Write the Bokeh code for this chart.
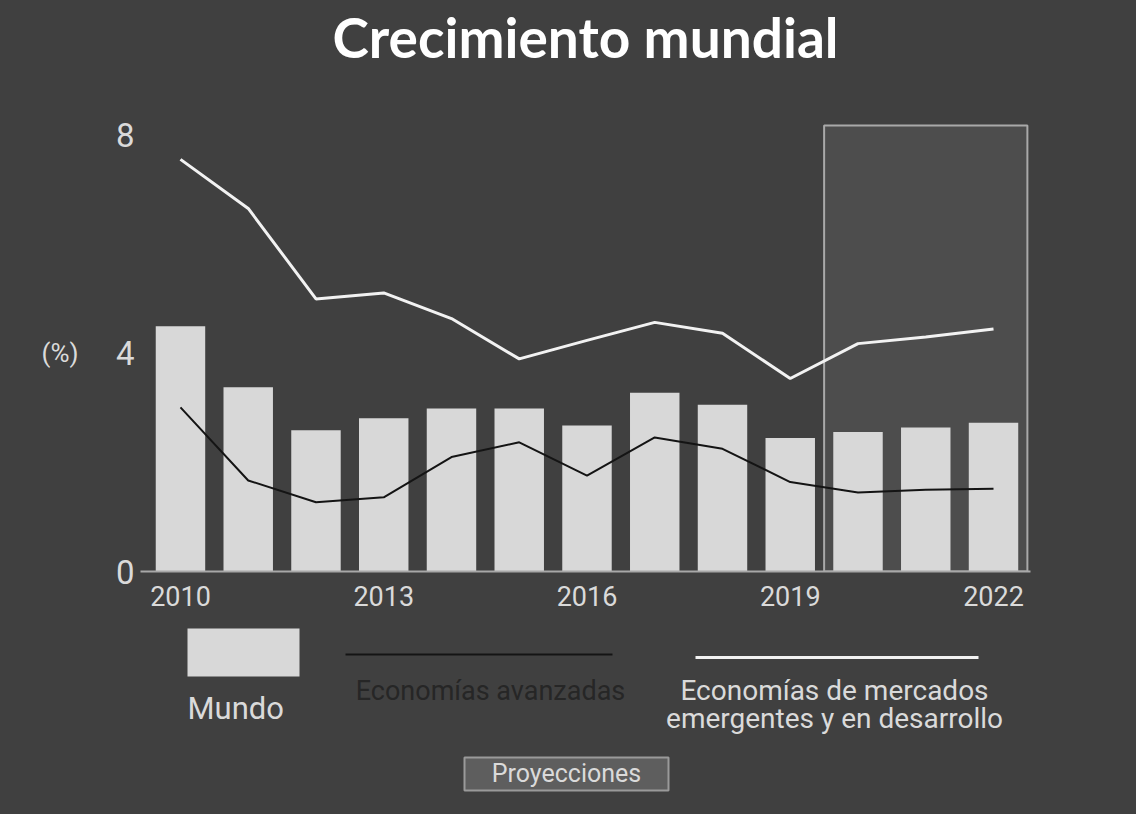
from bokeh.plotting import figure
from bokeh.models import Range1d, FixedTicker, LinearAxis, ColumnDataSource
from bokeh.layouts import column
from bokeh.embed import file_html
from bokeh.resources import INLINE
from bokeh.core.properties import value

# ---------------- data ----------------
years = [2010, 2011, 2012, 2013, 2014, 2015, 2016, 2017, 2018, 2019, 2020, 2021, 2022]
world = [4.50, 3.38, 2.59, 2.81, 2.99, 2.99, 2.68, 3.28, 3.06, 2.45, 2.56, 2.64, 2.73]
advanced = [3.01, 1.67, 1.27, 1.36, 2.10, 2.37, 1.76, 2.46, 2.25, 1.64, 1.45, 1.50, 1.52]
emerging = [7.56, 6.66, 5.00, 5.11, 4.64, 3.90, 4.24, 4.57, 4.37, 3.54, 4.18, 4.30, 4.45]
proj_years = [2020, 2021, 2022]
proj_top = 8.18
x_ticks = [2010, 2013, 2016, 2019, 2022]
y_ticks = [0, 4, 8]
unit_tick = 4

title_text = "Crecimiento mundial"
unit_text = "(%)"
lbl_world = "Mundo"
lbl_adv = "Economías avanzadas"
lbl_emde_1 = "Economías de mercados"
lbl_emde_2 = "emergentes y en desarrollo"
lbl_proj = "Proyecciones"

# ---------------- style ----------------
BG = "#404040"
BAR = "#d8d8d8"
WHITE_LINE = "#f2f2f2"
DARK_LINE = "#141414"
TXT = "#dadada"
FONT = "Roboto"
TFONT = "Lato"

W = 1136
ML, MR = 140, 106


def transparent(f):
    f.background_fill_color = None
    f.border_fill_color = None
    f.outline_line_color = None


src = ColumnDataSource(dict(year=years, world=world, adv=advanced, emde=emerging))

p = figure(width=W, height=620, output_backend="svg", toolbar_location=None,
           x_range=Range1d(2009.41, 2022.546), y_range=Range1d(0, 9.19),
           min_border_left=ML, min_border_right=MR, min_border_top=70, min_border_bottom=49)
transparent(p)

p.title.text = title_text
p.title.align = "center"
p.title.text_font = TFONT
p.title.text_font_size = "55px"
p.title.text_font_style = "bold"
p.title.text_color = "#ffffff"
p.title.standoff = 2

p.grid.visible = False

# projection shaded area
p.quad(left=[min(proj_years) - 0.5], right=[max(proj_years) + 0.5], bottom=[0], top=[proj_top],
       fill_color="#ffffff", fill_alpha=0.07, line_color="#a9a9a9", line_width=2)

p.vbar(x="year", top="world", width=0.73, source=src, fill_color=BAR, line_color=None)
p.line(x="year", y="emde", source=src, line_color=WHITE_LINE, line_width=3)
p.line(x="year", y="adv", source=src, line_color=DARK_LINE, line_width=2)

xa = p.xaxis[0]
xa.ticker = FixedTicker(ticks=x_ticks)
xa.major_tick_out = 0
xa.major_tick_in = 0
xa.minor_tick_line_color = None
xa.axis_line_color = "#a8a8a8"
xa.axis_line_width = 2
xa.major_label_text_font = FONT
xa.major_label_text_font_size = "27px"
xa.major_label_text_color = TXT
xa.major_label_standoff = 14

ya = p.yaxis[0]
ya.ticker = FixedTicker(ticks=y_ticks)
ya.major_tick_out = 0
ya.major_tick_in = 0
ya.minor_tick_line_color = None
ya.axis_line_color = None
ya.major_label_text_font = FONT
ya.major_label_text_font_size = "33px"
ya.major_label_text_color = TXT
ya.major_label_standoff = 6

# unit label "(%)" as an outer axis with a single labelled tick at 4
ua = LinearAxis(ticker=FixedTicker(ticks=[unit_tick]),
                major_label_overrides={unit_tick: unit_text})
ua.major_tick_out = 0
ua.major_tick_in = 0
ua.minor_tick_line_color = None
ua.axis_line_color = None
ua.major_label_text_font = FONT
ua.major_label_text_font_size = "26px"
ua.major_label_text_color = TXT
ua.major_label_standoff = 34
p.add_layout(ua, "left")

# ---------------- legend panel ----------------
lg = figure(width=W, height=194, output_backend="svg", toolbar_location=None,
            x_range=Range1d(ML, W - MR), y_range=Range1d(814, 620),
            min_border_left=ML, min_border_right=MR, min_border_top=0, min_border_bottom=0)
transparent(lg)
lg.axis.visible = False
lg.grid.visible = False

lg.quad(left=[187], right=[299], top=[628], bottom=[676], fill_color=BAR, line_color=None)
lg.text(x=[187], y=[708], text=[lbl_world], text_font=value(FONT), text_font_size="31px",
        text_color=TXT, text_baseline="middle", text_align="left")

lg.line(x=[345, 612], y=[654, 654], line_color=DARK_LINE, line_width=2)
lg.text(x=[490], y=[690], text=[lbl_adv], text_font=value(FONT), text_font_size="27px",
        text_color="#262626", text_baseline="middle", text_align="center")

lg.line(x=[695, 978], y=[657, 657], line_color=WHITE_LINE, line_width=3)
lg.text(x=[834, 834], y=[690, 718], text=[lbl_emde_1, lbl_emde_2], text_font=value(FONT),
        text_font_size="28px", text_color=TXT, text_baseline="middle", text_align="center")

lg.quad(left=[464], right=[668], top=[757], bottom=[790], fill_color="#5e5e5e",
        line_color="#9a9a9a", line_width=2)
lg.text(x=[566], y=[773], text=[lbl_proj], text_font=value(FONT), text_font_size="25px",
        text_color=TXT, text_baseline="middle", text_align="center")

layout = column(p, lg, spacing=0, styles={"background-color": BG})
open("out.html", "w").write(file_html(layout, INLINE))
